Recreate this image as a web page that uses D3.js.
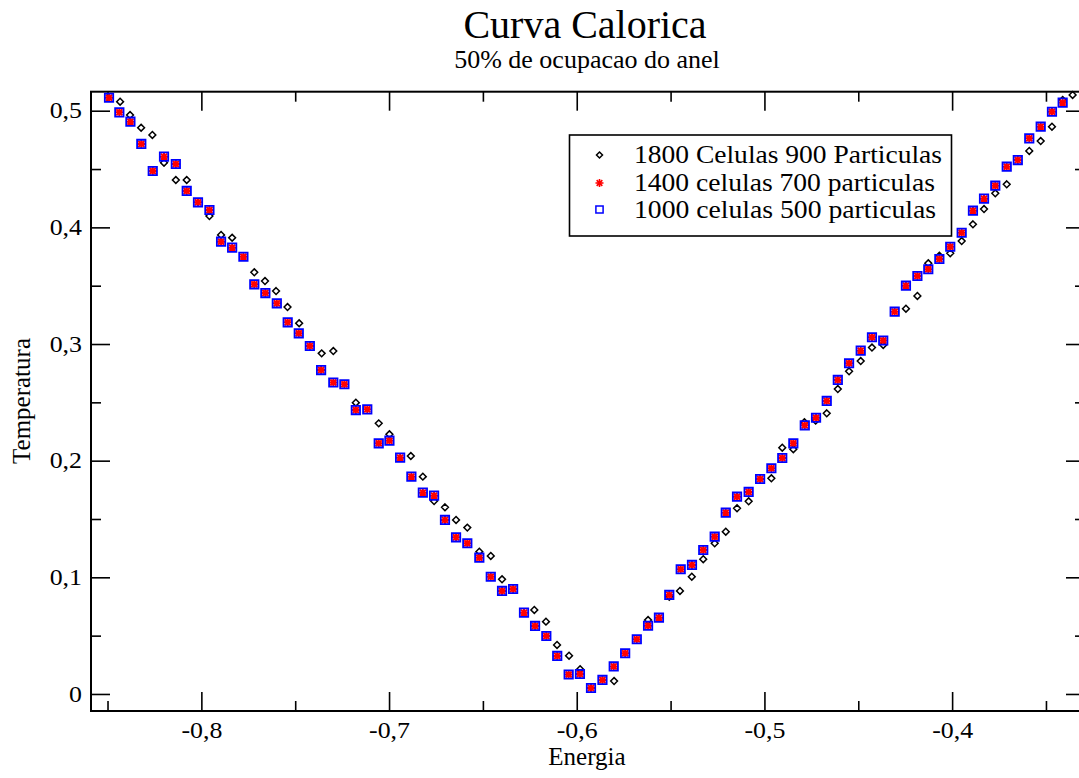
<!DOCTYPE html>
<html>
<head>
<meta charset="utf-8">
<script src="https://cdn.jsdelivr.net/npm/d3@7"></script>
<style>
  html, body { margin: 0; padding: 0; background: #ffffff; }
  svg { display: block; }
  svg text { font-family: "Liberation Serif", "Times New Roman", Times, serif !important; fill: #000; }
</style>
</head>
<body>
<svg id="chart" width="1079" height="778" font-family="Liberation Serif, serif"></svg>
<script>
// ---- Data ----
const title = "Curva Calorica";
const subtitle = "50% de ocupacao do anel";
const xLabel = "Energia";
const yLabel = "Temperatura";
const seriesNames = ["1800 Celulas 900 Particulas", "1400 celulas 700 particulas", "1000 celulas 500 particulas"];

const xTickValues = [-0.8, -0.7, -0.6, -0.5, -0.4];
const xMinorTickValues = [-0.85, -0.75, -0.65, -0.55, -0.45, -0.35];
const yTickValues = [0, 0.1, 0.2, 0.3, 0.4, 0.5];
const yMinorTickValues = [0.05, 0.15, 0.25, 0.35, 0.45];

// 1800 celulas / 900 particulas (black diamonds)
const energy900 = [-0.8433, -0.8380, -0.8321, -0.8261, -0.8199, -0.8136, -0.8078, -0.7957, -0.7895, -0.7836,
  -0.7718, -0.7661, -0.7602, -0.7541, -0.7479, -0.7359, -0.7297, -0.7177, -0.7055, -0.6998,
  -0.6884, -0.6820, -0.6760, -0.6702, -0.6643, -0.6583, -0.6519, -0.6458, -0.6398, -0.6226,
  -0.6164, -0.6105, -0.6041, -0.5982, -0.5801, -0.5620, -0.5507, -0.5450, -0.5387, -0.5326,
  -0.5265, -0.5206, -0.5146, -0.5084, -0.4963, -0.4905, -0.4846, -0.4787, -0.4727, -0.4668,
  -0.4609, -0.4549, -0.4487, -0.4427, -0.4367, -0.4246, -0.4185, -0.4127, -0.4068, -0.4010,
  -0.3949, -0.3889, -0.3830, -0.3770, -0.3709, -0.3589, -0.3528, -0.3468, -0.3411, -0.3358];
const temp900 = [0.5077, 0.4963, 0.4854, 0.4792, 0.4554, 0.4406, 0.4406, 0.4097, 0.3935, 0.3911,
  0.3615, 0.3540, 0.3454, 0.3317, 0.3178, 0.2920, 0.2940, 0.2497, 0.2320, 0.2226,
  0.2040, 0.1863, 0.1654, 0.1600, 0.1492, 0.1426, 0.1220, 0.1183, 0.0983, 0.0720,
  0.0620, 0.0420, 0.0328, 0.0212, 0.0111, 0.0634, 0.0834, 0.0883, 0.1005, 0.1155,
  0.1292, 0.1391, 0.1592, 0.1652, 0.1849, 0.2111, 0.2098, 0.2329, 0.2343, 0.2406,
  0.2614, 0.2766, 0.2854, 0.2970, 0.2992, 0.3303, 0.3412, 0.3692, 0.3757, 0.3778,
  0.3883, 0.4026, 0.4157, 0.4292, 0.4369, 0.4655, 0.4740, 0.4863, 0.5092, 0.5135];

// 1400 celulas / 700 particulas (red asterisks)
const energy700 = [-0.8492, -0.8437, -0.8378, -0.8320, -0.8259, -0.8199, -0.8136, -0.8078, -0.8018, -0.7957,
  -0.7895, -0.7836, -0.7776, -0.7718, -0.7659, -0.7598, -0.7540, -0.7481, -0.7422, -0.7362,
  -0.7297, -0.7238, -0.7177, -0.7116, -0.7055, -0.6998, -0.6941, -0.6881, -0.6820, -0.6760,
  -0.6702, -0.6643, -0.6583, -0.6519, -0.6458, -0.6398, -0.6339, -0.6281, -0.6222, -0.6162,
  -0.6104, -0.6043, -0.5983, -0.5924, -0.5863, -0.5803, -0.5742, -0.5680, -0.5620, -0.5562,
  -0.5507, -0.5446, -0.5386, -0.5326, -0.5265, -0.5206, -0.5146, -0.5084, -0.5023, -0.4963,
  -0.4905, -0.4846, -0.4785, -0.4725, -0.4668, -0.4609, -0.4549, -0.4487, -0.4427, -0.4367,
  -0.4306, -0.4246, -0.4185, -0.4127, -0.4068, -0.4010, -0.3949, -0.3889, -0.3830, -0.3770,
  -0.3709, -0.3650, -0.3589, -0.3528, -0.3468, -0.3411];
const temp700 = [0.5111, 0.4986, 0.4906, 0.4715, 0.4483, 0.4606, 0.4543, 0.4312, 0.4215, 0.4149,
  0.3877, 0.3826, 0.3748, 0.3512, 0.3437, 0.3349, 0.3186, 0.3092, 0.2983, 0.2777,
  0.2670, 0.2655, 0.2434, 0.2440, 0.2149, 0.2171, 0.2026, 0.1863, 0.1726, 0.1700,
  0.1492, 0.1343, 0.1292, 0.1168, 0.1005, 0.0883, 0.0900, 0.0697, 0.0583, 0.0497,
  0.0326, 0.0167, 0.0171, 0.0051, 0.0120, 0.0236, 0.0349, 0.0469, 0.0585, 0.0654,
  0.0849, 0.1069, 0.1106, 0.1234, 0.1348, 0.1554, 0.1691, 0.1732, 0.1843, 0.1935,
  0.2023, 0.2149, 0.2303, 0.2368, 0.2512, 0.2692, 0.2835, 0.2943, 0.3058, 0.3030,
  0.3277, 0.3500, 0.3583, 0.3641, 0.3729, 0.3834, 0.3954, 0.4143, 0.4246, 0.4357,
  0.4520, 0.4577, 0.4763, 0.4863, 0.4991, 0.5069];

// 1000 celulas / 500 particulas (blue squares)
const energy500 = energy700.slice();
const temp500 = [0.5111, 0.4986, 0.4906, 0.4715, 0.4483, 0.4606, 0.4543, 0.4312, 0.4215, 0.4149,
  0.3877, 0.3826, 0.3748, 0.3512, 0.3437, 0.3349, 0.3186, 0.3092, 0.2983, 0.2777,
  0.2670, 0.2655, 0.2434, 0.2440, 0.2149, 0.2171, 0.2026, 0.1863, 0.1726, 0.1700,
  0.1492, 0.1343, 0.1292, 0.1168, 0.1005, 0.0883, 0.0900, 0.0697, 0.0583, 0.0497,
  0.0326, 0.0167, 0.0171, 0.0051, 0.0120, 0.0236, 0.0349, 0.0469, 0.0585, 0.0654,
  0.0849, 0.1069, 0.1106, 0.1234, 0.1348, 0.1554, 0.1691, 0.1732, 0.1843, 0.1935,
  0.2023, 0.2149, 0.2303, 0.2368, 0.2512, 0.2692, 0.2835, 0.2943, 0.3058, 0.3030,
  0.3277, 0.3500, 0.3583, 0.3641, 0.3729, 0.3834, 0.3954, 0.4143, 0.4246, 0.4357,
  0.4520, 0.4577, 0.4763, 0.4863, 0.4991, 0.5069];

// ---- Layout ----
const W = 1079, H = 778;
const plot = { left: 91, right: 1085, top: 91.7, bottom: 711 };
const SERIF = "Liberation Serif, Times New Roman, serif";

const svg = d3.select("#chart");
svg.append("rect").attr("x", 0).attr("y", 0).attr("width", W).attr("height", H).attr("fill", "#fff");

const x = d3.scaleLinear().domain([-0.8588, -0.3292]).range([plot.left, plot.right]);
const y = d3.scaleLinear().domain([-0.0146, 0.5163]).range([plot.bottom, plot.top]);

const fmt = d => (d === 0 ? "0" : d3.format(".1f")(d)).replace(".", ",").replace("\u2212", "-");

const MAJ = 19, MIN = 10;

function styleAxis(g) {
  g.attr("font-family", SERIF);
  g.select(".domain").remove();
  g.selectAll(".tick line").attr("stroke", "#000").attr("stroke-width", 1.6);
  g.selectAll(".tick text").attr("font-family", SERIF).attr("fill", "#000");
}

// bottom
svg.append("g").attr("transform", `translate(0,${plot.bottom})`)
  .call(d3.axisBottom(x).tickValues(xTickValues).tickSize(-MAJ).tickPadding(11.5).tickFormat(fmt))
  .call(styleAxis)
  .call(g => g.selectAll(".tick text").attr("font-size", 22.5));
svg.append("g").attr("transform", `translate(0,${plot.bottom})`)
  .call(d3.axisBottom(x).tickValues(xMinorTickValues).tickSize(-MIN).tickFormat(""))
  .call(styleAxis);
// top
svg.append("g").attr("transform", `translate(0,${plot.top})`)
  .call(d3.axisTop(x).tickValues(xTickValues).tickSize(-MAJ).tickFormat(""))
  .call(styleAxis);
svg.append("g").attr("transform", `translate(0,${plot.top})`)
  .call(d3.axisTop(x).tickValues(xMinorTickValues).tickSize(-MIN).tickFormat(""))
  .call(styleAxis);
// left
svg.append("g").attr("transform", `translate(${plot.left},0)`)
  .call(d3.axisLeft(y).tickValues(yTickValues).tickSize(-MAJ).tickPadding(9).tickFormat(fmt))
  .call(styleAxis)
  .call(g => g.selectAll(".tick text").attr("font-size", 22.5));
svg.append("g").attr("transform", `translate(${plot.left},0)`)
  .call(d3.axisLeft(y).tickValues(yMinorTickValues).tickSize(-MIN).tickFormat(""))
  .call(styleAxis);
// right
svg.append("g").attr("transform", `translate(${plot.right},0)`)
  .call(d3.axisRight(y).tickValues(yTickValues).tickSize(-MAJ).tickFormat(""))
  .call(styleAxis);
svg.append("g").attr("transform", `translate(${plot.right},0)`)
  .call(d3.axisRight(y).tickValues(yMinorTickValues).tickSize(-MIN).tickFormat(""))
  .call(styleAxis);

// stretch tick labels slightly (the reference glyphs are wider than Times)
svg.selectAll(".tick text").each(function () {
  const len = this.getComputedTextLength();
  if (len > 0) d3.select(this).attr("textLength", len * 1.15).attr("lengthAdjust", "spacingAndGlyphs");
});

// frame
svg.append("rect")
  .attr("x", plot.left).attr("y", plot.top)
  .attr("width", plot.right - plot.left).attr("height", plot.bottom - plot.top)
  .attr("fill", "none").attr("stroke", "#000").attr("stroke-width", 2);

// ---- Marks ----
const dataBlack = energy900.map((e, i) => ({ e, t: temp900[i] }));
const dataRed = energy700.map((e, i) => ({ e, t: temp700[i] }));
const dataBlue = energy500.map((e, i) => ({ e, t: temp500[i] }));

const clipId = "plotclip";
svg.append("clipPath").attr("id", clipId).append("rect")
  .attr("x", plot.left - 6).attr("y", plot.top - 8).attr("width", plot.right - plot.left + 12).attr("height", plot.bottom - plot.top + 14);

const marks = svg.append("g").attr("clip-path", `url(#${clipId})`);

function diamond(sel, r) {
  sel.attr("d", `M0,${-r}L${r},0L0,${r}L${-r},0Z`)
    .attr("fill", "none").attr("stroke", "#000").attr("stroke-width", 1.5);
}
function star(sel, r, w) {
  const d = r * 0.7071;
  sel.attr("d", `M${-r},0L${r},0M0,${-r}L0,${r}M${-d},${-d}L${d},${d}M${-d},${d}L${d},${-d}`)
    .attr("fill", "none").attr("stroke", "#ff0000").attr("stroke-width", w || 1.5);
}
function square(sel, r, w) {
  sel.attr("d", `M${-r},${-r}H${r}V${r}H${-r}Z`)
    .attr("fill", "none").attr("stroke", "#0000ff").attr("stroke-width", w || 1.5);
}

marks.selectAll(".pb").data(dataBlack).join("path").attr("class", "pb")
  .attr("transform", d => `translate(${x(d.e)},${y(d.t)})`).call(diamond, 3.4);
marks.selectAll(".pr").data(dataRed).join("path").attr("class", "pr")
  .attr("transform", d => `translate(${x(d.e)},${y(d.t)})`).call(star, 4.3, 2);
marks.selectAll(".pq").data(dataBlue).join("path").attr("class", "pq")
  .attr("transform", d => `translate(${x(d.e)},${y(d.t)})`).call(square, 4.2, 1.8);

// ---- Titles ----
function addText(attrs, str) {
  const t = svg.append("text").attr("font-family", SERIF).attr("fill", "#000");
  Object.entries(attrs).forEach(([k, v]) => t.attr(k, v));
  return t.text(str);
}
addText({ x: 585, y: 38, "text-anchor": "middle", "font-size": 40 }, title);
addText({ x: 587, y: 68, "text-anchor": "middle", "font-size": 26 }, subtitle);
addText({ x: 587, y: 765, "text-anchor": "middle", "font-size": 25 }, xLabel);
addText({ transform: "translate(30,401) rotate(-90)", "text-anchor": "middle", "font-size": 25 }, yLabel);

// ---- Legend ----
const legend = svg.append("g");
legend.append("rect").attr("x", 569.5).attr("y", 135).attr("width", 382).attr("height", 101)
  .attr("fill", "#fff").attr("stroke", "#000").attr("stroke-width", 1.6);
const legRows = [155, 183, 209.5];
const legWidths = [308, 301, 302];
const legMarkers = [p => p.call(diamond, 3), p => p.call(star, 4, 1.6), p => p.call(square, 3.6, 1.5)];
seriesNames.forEach((name, i) => {
  legend.append("path").attr("transform", `translate(599.5,${legRows[i]})`).call(legMarkers[i]);
  legend.append("text").attr("x", 634).attr("y", legRows[i] + 8.3)
    .attr("font-family", SERIF).attr("fill", "#000")
    .attr("font-size", 24.5).attr("textLength", legWidths[i]).attr("lengthAdjust", "spacingAndGlyphs")
    .text(name);
});
</script>
</body>
</html>
